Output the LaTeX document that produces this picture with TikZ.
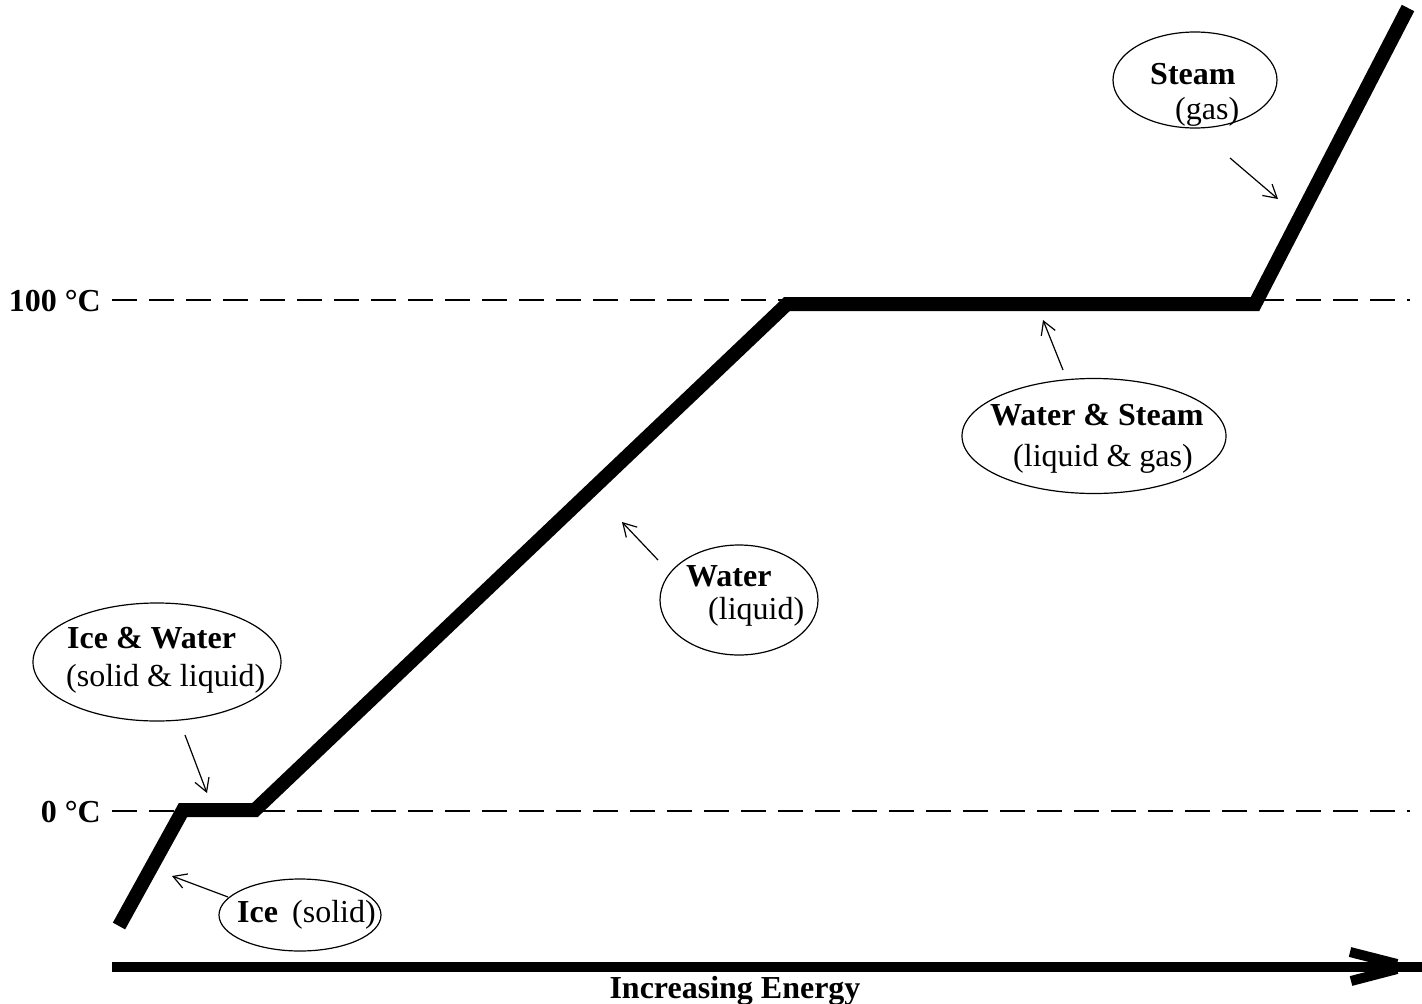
\documentclass[tikz,border=0pt]{standalone}
\usepackage{fontspec}
\setmainfont{Liberation Serif}
\usetikzlibrary{arrows.meta,shapes.geometric}
\begin{document}
\begin{tikzpicture}[x=1pt,y=-1pt,
  curve/.style={line width=14pt, line join=miter},
  refline/.style={line width=2.7pt, dash pattern=on 25pt off 12pt},
  bubble/.style={draw, ellipse, line width=1.2pt, inner sep=0pt},
  pointer/.style={line width=1.2pt, -{Straight Barb[length=13pt,width=15pt,line width=1.2pt]}},
  lbl/.style={font=\fontsize{32}{38}\selectfont, inner sep=0pt, anchor=base west},
  tick/.style={font=\fontsize{32}{38}\selectfont\bfseries, inner sep=0pt, anchor=base east},
  axis/.style={line width=10pt},
]
\useasboundingbox (0,0) rectangle (1422,1004);

% reference temperature lines
\coordinate (hl) at (112,300);
\coordinate (hr) at (1410,300);
\coordinate (zl) at (112,811);
\coordinate (zr) at (1410,811);
\draw[refline] (hl) -- (hr);
\draw[refline] (zl) -- (zr);
\node[tick] (t100) at (101,311) {100 °C};
\node[tick] (t0) at (101,822) {0 °C};

% heating curve
\coordinate (c0) at (119,926);
\coordinate (c1) at (183,810);
\coordinate (c2) at (255,810);
\coordinate (c3) at (787,304);
\coordinate (c4) at (1255,304);
\coordinate (c5) at (1408,8);
\draw[curve] (c0) -- (c1) -- (c2) -- (c3) -- (c4) -- (c5);

% energy axis
\coordinate (al) at (112,967);
\coordinate (ar) at (1422,967);
\coordinate (au) at (1350,952);
\coordinate (at1) at (1397,964);
\coordinate (at2) at (1397,969);
\coordinate (ad) at (1351,981);
\draw[axis] (al) -- (ar);
\draw[axis] (au) -- (at1);
\draw[axis] (ad) -- (at2);
\node[font=\fontsize{32}{38}\selectfont\bfseries, inner sep=0pt, anchor=base] (energy) at (735,998) {Increasing Energy};

% Steam
\node[bubble, minimum width=164pt, minimum height=96pt] (steam) at (1195,80) {};
\node[lbl] (steamA) at (1150,84) {\textbf{Steam}};
\node[lbl] (steamB) at (1175,119) {(gas)};
\coordinate (steamS) at (1230,158);
\coordinate (steamT) at (1278,199);
\draw[pointer] (steamS) -- (steamT);

% Water & Steam
\node[bubble, minimum width=264pt, minimum height=115pt] (ws) at (1094,436) {};
\node[lbl] (wsA) at (990,425) {\textbf{Water \& Steam}};
\node[lbl] (wsB) at (1013,466) {(liquid \& gas)};
\coordinate (wsS) at (1063,370);
\coordinate (wsT) at (1043,320);
\draw[pointer] (wsS) -- (wsT);

% Water
\node[bubble, minimum width=158pt, minimum height=110pt] (water) at (739,600) {};
\node[lbl] (waterA) at (686,586) {\textbf{Water}};
\node[lbl] (waterB) at (708,619) {(liquid)};
\coordinate (waterS) at (658,560);
\coordinate (waterT) at (622,522);
\draw[pointer] (waterS) -- (waterT);

% Ice & Water
\node[bubble, minimum width=248pt, minimum height=118pt] (iw) at (157,662) {};
\node[lbl] (iwA) at (67,648) {\textbf{Ice \& Water}};
\node[lbl] (iwB) at (66,686) {(solid \& liquid)};
\coordinate (iwS) at (185,735);
\coordinate (iwT) at (207,793);
\draw[pointer] (iwS) -- (iwT);

% Ice
\node[bubble, minimum width=162pt, minimum height=72pt] (ice) at (300,915) {};
\node[lbl] (iceA) at (237,922) {\textbf{Ice}};
\node[lbl] (iceB) at (292,922) {(solid)};
\coordinate (iceS) at (228,897);
\coordinate (iceT) at (172,876);
\draw[pointer] (iceS) -- (iceT);
\end{tikzpicture}
\end{document}
